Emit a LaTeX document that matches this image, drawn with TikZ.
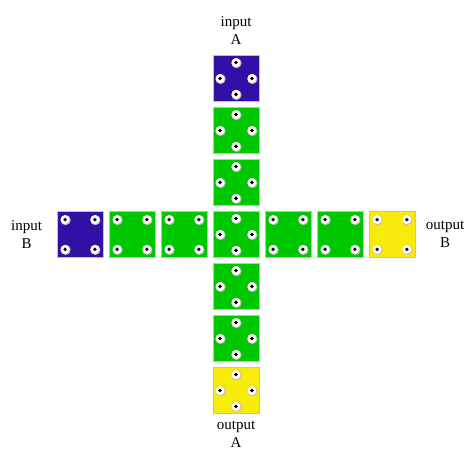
\documentclass[tikz,border=0pt]{standalone}
\usepackage{fontspec}
\setmainfont{Liberation Serif}
\usepackage{xcolor}
\usepackage{tikz}
\usetikzlibrary{positioning}

\definecolor{tileblue}{RGB}{50,15,165}
\definecolor{tilegreen}{RGB}{0,200,0}
\definecolor{tileyellow}{RGB}{248,234,10}
\definecolor{tileedge}{RGB}{190,190,215}

\newcommand{\diamondholes}[1]{%
  \pic at ([yshift=-7.5pt]#1.north) {hole};
  \pic at ([yshift=7.5pt]#1.south) {hole};
  \pic at ([xshift=7.5pt]#1.west) {hole};
  \pic at ([xshift=-7.5pt]#1.east) {hole};}
\newcommand{\cornerholes}[1]{%
  \pic at ([shift={(8.5pt,-8.5pt)}]#1.north west) {hole};
  \pic at ([shift={(-8.5pt,-8.5pt)}]#1.north east) {hole};
  \pic at ([shift={(8.5pt,8.5pt)}]#1.south west) {hole};
  \pic at ([shift={(-8.5pt,8.5pt)}]#1.south east) {hole};}

\begin{document}
\begin{tikzpicture}[
    x=1pt, y=1pt,
    node distance=5.2pt,
    tile/.style={draw=tileedge, line width=0.8pt, minimum size=46pt,
                 inner sep=0pt, fill=#1},
    tile/.default=tilegreen,
    lbl/.style={align=center, font=\fontsize{15}{18}\selectfont},
    hole/.pic={
      \fill[black!25] (0.5,-0.5) circle (5.1);
      \fill[white] (0,0) circle (4.5);
      \fill[black] (0,0) circle (1.9);
    },
]
\useasboundingbox (-236,234.5) rectangle (233,-217.5);

% --- Vertical line A ---
\node[tile] (ctr) at (0,0) {};
\node[tile, above=of ctr] (vA2) {};
\node[tile, above=of vA2] (vA1) {};
\node[tile=tileblue, above=of vA1] (inA) {};
\node[tile, below=of ctr] (vA4) {};
\node[tile, below=of vA4] (vA5) {};
\node[tile=tileyellow, below=of vA5] (outA) {};

% --- Horizontal line B ---
\node[tile, left=of ctr] (hB2) {};
\node[tile, left=of hB2] (hB1) {};
\node[tile=tileblue, left=of hB1] (inB) {};
\node[tile, right=of ctr] (hB4) {};
\node[tile, right=of hB4] (hB5) {};
\node[tile=tileyellow, right=of hB5] (outB) {};

% --- Holes ---
\foreach \t in {inA,vA1,vA2,ctr,vA4,vA5,outA} {\diamondholes{\t}}
\foreach \t in {inB,hB1,hB2,hB4,hB5,outB} {\cornerholes{\t}}

% --- Labels ---
\node[lbl, above=7pt of inA] (lblinA) {input\\A};
\node[lbl, below=4pt of outA] (lbloutA) {output\\A};
\node[lbl, left=11pt of inB] (lblinB) {input\\B};
\node[lbl, right=7pt of outB] (lbloutB) {output\\B};

\end{tikzpicture}
\end{document}
